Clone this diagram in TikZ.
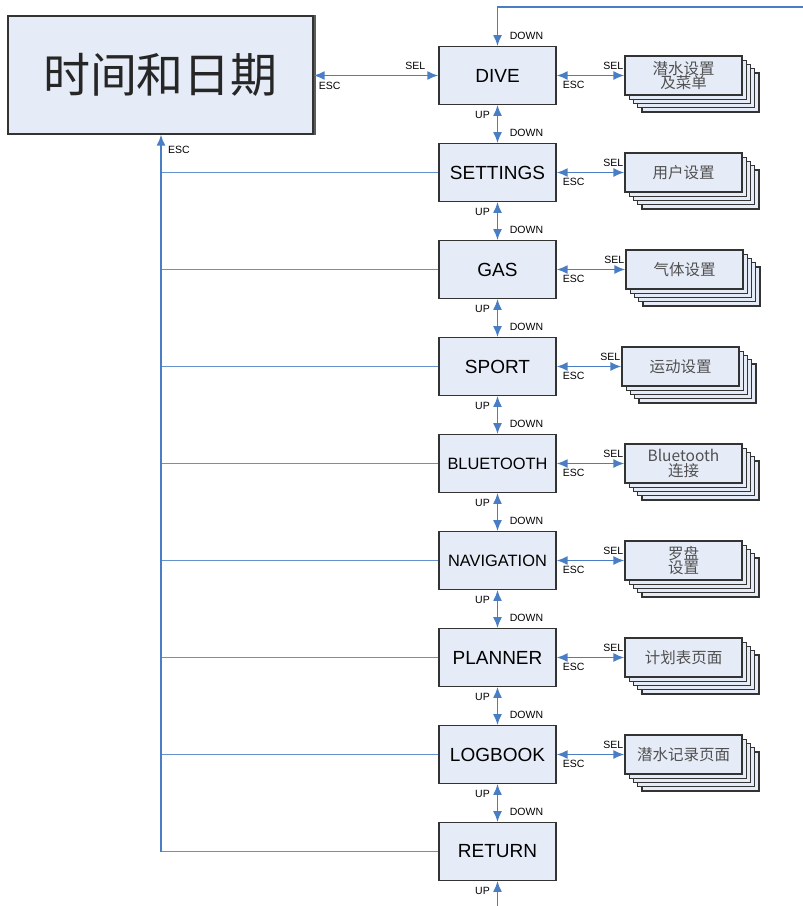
\documentclass[tikz,border=0pt]{standalone}
\usepackage{fontspec}
\setmainfont{Liberation Sans}
\newfontfamily\cjk{Noto Sans CJK SC}
\usetikzlibrary{arrows.meta}
\definecolor{boxfill}{HTML}{E6ECF7}
\definecolor{boxdraw}{HTML}{333333}
\definecolor{lnblue}{HTML}{4A7EC4}
\definecolor{subtxt}{HTML}{505050}
\newcommand\mystack[3]{%
  \foreach \d in {17,12.75,8.5,4.25}{\node[subbox,xshift=\d pt,yshift=-\d pt] at (#2) {};}
  \node[subbox] (#1) at (#2) {#3};}
\begin{document}
\begin{tikzpicture}[x=1pt,y=-1pt,
  mainbox/.style={draw=boxdraw,fill=boxfill,line width=1.3pt,minimum width=117pt,minimum height=57.5pt,inner sep=0pt,font=\fontsize{19}{22}\selectfont},
  subbox/.style={draw=boxdraw,fill=boxfill,line width=1.2pt,minimum width=117pt,minimum height=39pt,inner sep=0pt,align=center,text=subtxt,font=\cjk\fontsize{15.5}{14.5}\selectfont},
  lbl/.style={font=\fontsize{10.5}{12}\selectfont,inner sep=0pt},
  conn/.style={draw=lnblue,line width=1.6pt},
  hln/.style={draw=lnblue!85,line width=1.3pt},
  tip/.style={Latex[length=11pt,width=9pt]},
  arr/.style={conn,-{Latex[length=11pt,width=9pt]}},
  darr/.style={conn,{Latex[length=11pt,width=9pt]}-{Latex[length=11pt,width=9pt]}},
]
\useasboundingbox (0,0) rectangle (803,906);
% big box
\node[draw=boxdraw,fill=boxfill,line width=1.3pt,minimum width=305pt,minimum height=118pt,inner sep=0pt,font=\cjk\fontsize{47}{50}\selectfont,text=black!85] (big) at (160.5,75) {时间和日期};
\draw[boxdraw!80,line width=1.5pt] ([xshift=1.2pt]big.north east) -- ([xshift=1.2pt]big.south east);
% main column
\node[mainbox] (dive) at (497.5,75.5) {DIVE};
\node[mainbox] (settings) at (497.5,172.5) {SETTINGS};
\node[mainbox] (gas) at (497.5,269.5) {GAS};
\node[mainbox] (sport) at (497.5,366.5) {SPORT};
\node[mainbox,font=\fontsize{16.4}{20}\selectfont] (bt) at (497.5,463.5) {BLUETOOTH};
\node[mainbox,font=\fontsize{16.4}{20}\selectfont] (nav) at (497.5,560.5) {NAVIGATION};
\node[mainbox] (plan) at (497.5,657.5) {PLANNER};
\node[mainbox] (log) at (497.5,754.5) {LOGBOOK};
\node[mainbox] (ret) at (497.5,851.5) {RETURN};
% stacks
\mystack{sdive}{683.5,75.5}{潜水设置\\及菜单}
\mystack{sset}{683.5,172.5}{用户设置}
\mystack{sgas}{684.5,269.5}{气体设置}
\mystack{ssport}{680.5,366.5}{运动设置}
\mystack{sbt}{683.5,463.5}{Bluetooth\\连接}
\mystack{snav}{683.5,560.5}{罗盘\\设置}
\mystack{splan}{683.5,657.5}{计划表页面}
\mystack{slog}{683.5,754.5}{潜水记录页面}
% right connectors
\foreach \m/\s in {dive/sdive,settings/sset,gas/sgas,sport/ssport,bt/sbt,nav/snav,plan/splan,log/slog}{
  \draw[darr] (\m.east) -- (\s.west);
  \node[lbl] at ([shift={(-11,-9.5)}]\s.west) {SEL};
  \node[lbl] at ([shift={(17,9.5)}]\m.east) {ESC};
}
% vertical connectors
\foreach \a/\b in {dive/settings,settings/gas,gas/sport,sport/bt,bt/nav,nav/plan,plan/log,log/ret}{
  \draw[darr] (\a.south) -- (\b.north);
  \node[lbl] at ([shift={(-15,10)}]\a.south) {UP};
  \node[lbl] at ([shift={(29,-10)}]\b.north) {DOWN};
}
% top loop
\coordinate (topend) at (803,7);
\draw[arr] (topend) -- (dive.north |- topend) -- (dive.north);
\node[lbl] at ([shift={(29,-10)}]dive.north) {DOWN};
% bottom
\coordinate (botend) at (497.5,906);
\draw[arr] (botend) -- (ret.south);
\node[lbl] at ([shift={(-15,10)}]ret.south) {UP};
% left connector to big box
\draw[darr] (dive.west) -- (dive.west -| big.east);
\node[lbl] at ([shift={(-23,-9.5)}]dive.west) {SEL};
\node[lbl] at ([shift={(16,10.5)}]big.east |- dive.west) {ESC};
% ESC return lines
\coordinate (vx) at (161,0);
\foreach \n in {settings,gas,sport,bt,nav,plan,log,ret}{
  \draw[hln] (\n.west) -- (\n.west -| vx);
}
\draw[arr] (ret.west -| vx) -- (vx |- big.south);
\node[lbl,anchor=west] at (168,150) {ESC};
\end{tikzpicture}
\end{document}
